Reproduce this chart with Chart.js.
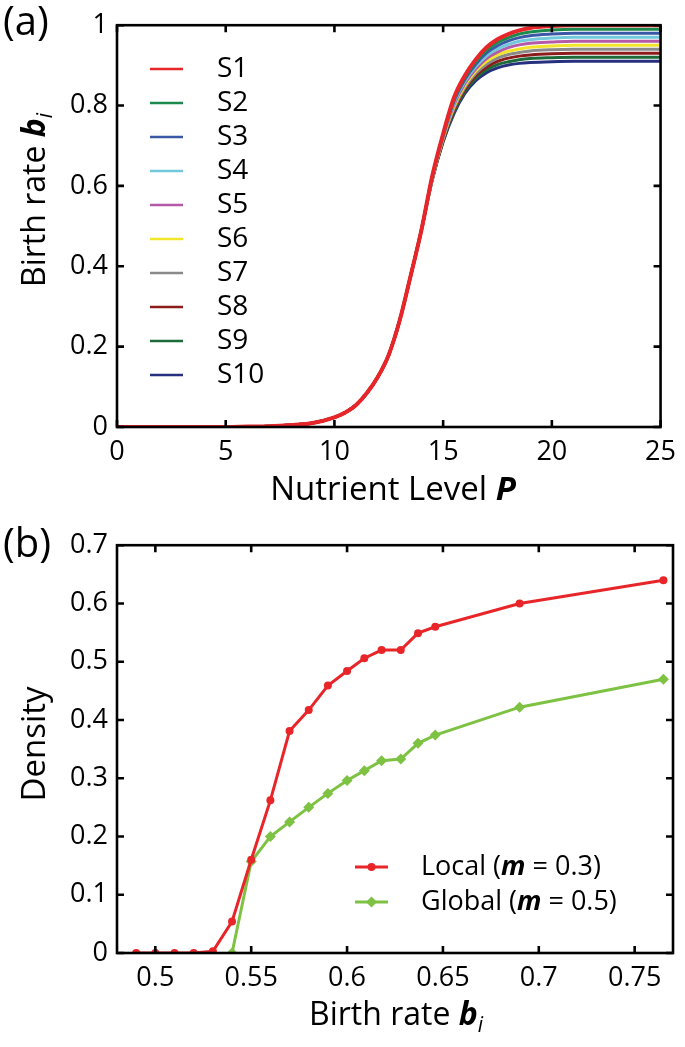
<!DOCTYPE html>
<html>
<head>
<meta charset="utf-8">
<script src="https://cdn.jsdelivr.net/npm/chart.js@4.4.1/dist/chart.umd.min.js"></script>
<style>
  html, body { margin: 0; padding: 0; background: #fff; }
  canvas { display: block; }
</style>
</head>
<body>
<canvas id="chartA" width="685" height="520"></canvas>
<canvas id="chartB" width="685" height="527"></canvas>
<script>
// ---- panel (a): birth rate vs nutrient level ----
const nutrientLow = [0, 1, 2, 3, 4, 5, 6, 7, 8, 9, 10, 10.5, 11, 11.5, 12, 12.5, 13, 13.5, 14];
const nutrientHigh = [14.5, 15, 15.5, 16, 16.5, 17, 17.5, 18, 18.5, 19, 20, 21, 22, 23, 24, 25];
// all species share the rising part of the curve
const riseShared = [0, 0, 0, 0, 0, 0, 0.001, 0.002, 0.005, 0.01, 0.024, 0.036, 0.055, 0.085, 0.125, 0.18, 0.265, 0.375, 0.49];
const s1Top = [0.625, 0.73, 0.82, 0.875, 0.915, 0.945, 0.965, 0.978, 0.987, 0.993, 0.998, 1, 1, 1, 1, 1];
const s2Top = [0.624, 0.728, 0.816, 0.870, 0.909, 0.938, 0.957, 0.969, 0.978, 0.983, 0.988, 0.99, 0.99, 0.99, 0.99, 0.99];
const s3Top = [0.623, 0.726, 0.811, 0.865, 0.903, 0.931, 0.949, 0.961, 0.969, 0.974, 0.978, 0.98, 0.98, 0.98, 0.98, 0.98];
const s4Top = [0.622, 0.723, 0.807, 0.860, 0.897, 0.924, 0.941, 0.952, 0.960, 0.964, 0.968, 0.97, 0.97, 0.97, 0.97, 0.97];
const s5Top = [0.621, 0.721, 0.802, 0.855, 0.891, 0.917, 0.933, 0.944, 0.951, 0.955, 0.958, 0.96, 0.96, 0.96, 0.96, 0.96];
const s6Top = [0.619, 0.719, 0.798, 0.850, 0.886, 0.910, 0.926, 0.935, 0.941, 0.945, 0.948, 0.95, 0.95, 0.95, 0.95, 0.95];
const s7Top = [0.618, 0.717, 0.793, 0.845, 0.880, 0.903, 0.918, 0.927, 0.932, 0.936, 0.939, 0.94, 0.94, 0.94, 0.94, 0.94];
const s8Top = [0.617, 0.714, 0.789, 0.840, 0.874, 0.896, 0.910, 0.918, 0.923, 0.926, 0.929, 0.93, 0.93, 0.93, 0.93, 0.93];
const s9Top = [0.616, 0.712, 0.784, 0.835, 0.868, 0.889, 0.902, 0.909, 0.914, 0.917, 0.919, 0.92, 0.92, 0.92, 0.92, 0.92];
const s10Top = [0.615, 0.71, 0.78, 0.83, 0.862, 0.882, 0.894, 0.901, 0.905, 0.907, 0.909, 0.91, 0.91, 0.91, 0.91, 0.91];
const speciesNames = ["S1", "S2", "S3", "S4", "S5", "S6", "S7", "S8", "S9", "S10"];
const speciesTops = [s1Top, s2Top, s3Top, s4Top, s5Top, s6Top, s7Top, s8Top, s9Top, s10Top];
const speciesColors = ["#e8262a", "#1b8a4c", "#3b58a6", "#72c9dc", "#b45aa8", "#f1e62a", "#8a8a8a", "#8c1c1c", "#1d6b3a", "#26307e"];
const nutrientTicks = [0, 5, 10, 15, 20, 25];

// ---- panel (b): density vs birth rate ----
const localRate = [0.49, 0.50, 0.51, 0.52, 0.53, 0.54, 0.55, 0.56, 0.57, 0.58, 0.59, 0.60, 0.609, 0.618, 0.628, 0.637, 0.646, 0.69, 0.765];
const localDensity = [0, 0, 0, 0, 0.003, 0.054, 0.16, 0.262, 0.381, 0.417, 0.459, 0.484, 0.506, 0.52, 0.52, 0.549, 0.56, 0.6, 0.64];
const globalRate = [0.54, 0.55, 0.56, 0.57, 0.58, 0.59, 0.60, 0.609, 0.618, 0.628, 0.637, 0.646, 0.69, 0.765];
const globalDensity = [0, 0.157, 0.2, 0.225, 0.25, 0.274, 0.296, 0.313, 0.33, 0.333, 0.36, 0.374, 0.422, 0.47];
const rateTicks = [0.5, 0.55, 0.6, 0.65, 0.7, 0.75];

const FONT = "'Open Sans', 'DejaVu Sans', sans-serif";
const RED = "#e8262a";
const GREEN = "#7dc242";

function font(size, style) {
    return (style ? style + " " : "") + size + "px " + FONT;
}

// draw text made of pieces with different fonts
function drawRich(ctx, pieces, x, y, opts) {
    opts = opts || {};
    ctx.save();
    ctx.translate(x, y);
    if (opts.rotate) ctx.rotate(opts.rotate);
    ctx.textBaseline = "middle";
    ctx.textAlign = "left";
    ctx.fillStyle = "#000";
    let total = 0;
    pieces.forEach((p) => {
        ctx.font = p.font;
        p.w = ctx.measureText(p.text).width;
        total += p.w;
    });
    let cx = opts.align === "left" ? 0 : -total / 2;
    pieces.forEach((p) => {
        ctx.font = p.font;
        ctx.fillText(p.text, cx, p.dy || 0);
        cx += p.w;
    });
    ctx.restore();
}

// box frame, inward ticks, titles and legend
function framePlugin(extra) {
    return {
        id: "frame",
        afterDraw(chart) {
            const ctx = chart.ctx;
            const a = chart.chartArea;
            const xs = chart.scales.x, ys = chart.scales.y;
            ctx.save();
            ctx.strokeStyle = "#000";
            ctx.lineWidth = 2.6;
            ctx.strokeRect(a.left, a.top, a.right - a.left, a.bottom - a.top);
            ctx.beginPath();
            xs.ticks.forEach((t) => {
                const px = xs.getPixelForValue(t.value);
                ctx.moveTo(px, a.bottom); ctx.lineTo(px, a.bottom - 7);
                ctx.moveTo(px, a.top); ctx.lineTo(px, a.top + 7);
            });
            ys.ticks.forEach((t) => {
                const py = ys.getPixelForValue(t.value);
                ctx.moveTo(a.left, py); ctx.lineTo(a.left + 7, py);
                ctx.moveTo(a.right, py); ctx.lineTo(a.right - 7, py);
            });
            ctx.stroke();
            ctx.restore();
            extra(ctx, chart);
        },
    };
}

function axisOpts(min, max) {
    return {
        type: "linear",
        min: min,
        max: max,
        grid: { display: false, drawTicks: false },
        border: { display: false },
        ticks: { color: "#000", font: { family: FONT, size: 27 }, padding: 9 },
    };
}

// ---------- chart (a) ----------
const datasetsA = speciesNames.map((name, i) => {
    const ys = riseShared.concat(speciesTops[i]);
    const xs = nutrientLow.concat(nutrientHigh);
    return {
        label: name,
        data: xs.map((x, k) => ({ x: x, y: ys[k] })),
        borderColor: speciesColors[i],
        borderWidth: i === 0 ? 4 : 3,
        pointRadius: 0,
        cubicInterpolationMode: "monotone",
        fill: false,
    };
});

const xA = axisOpts(0, 25);
xA.afterBuildTicks = (s) => { s.ticks = nutrientTicks.map((v) => ({ value: v })); };
xA.afterFit = (s) => { s.height = 93; };
const yA = axisOpts(0, 1);
yA.ticks.stepSize = 0.2;
yA.ticks.callback = (v) => String(Number(v.toFixed(2)));
yA.afterFit = (s) => { s.width = 117; };

new Chart(document.getElementById("chartA"), {
    type: "line",
    data: { datasets: datasetsA },
    options: {
        responsive: false,
        animation: false,
        devicePixelRatio: 1,
        layout: { padding: { top: 20, right: 12, left: 0, bottom: 0 } },
        plugins: { legend: { display: false }, tooltip: { enabled: false } },
        scales: { x: xA, y: yA },
    },
    plugins: [framePlugin((ctx, chart) => {
        drawRich(ctx, [{ text: "(a)", font: font(40) }], 3, 24, { align: "left" });
        drawRich(ctx, [
            { text: "Nutrient Level ", font: font(33) },
            { text: "P", font: font(33, "italic bold") },
        ], 393, 491);
        drawRich(ctx, [
            { text: "Birth rate ", font: font(32) },
            { text: "b", font: font(32, "italic bold") },
            { text: "i", font: font(21, "italic"), dy: 10 },
        ], 36, 200, { rotate: -Math.PI / 2 });
        // legend
        speciesNames.forEach((name, i) => {
            const y = 69 + i * 34;
            ctx.save();
            ctx.strokeStyle = speciesColors[i];
            ctx.lineWidth = 2.6;
            ctx.beginPath();
            ctx.moveTo(150, y); ctx.lineTo(183, y);
            ctx.stroke();
            ctx.restore();
            drawRich(ctx, [{ text: name, font: font(28) }], 217, y, { align: "left" });
        });
    })],
});

// ---------- chart (b) ----------
const xB = axisOpts(0.48, 0.77);
xB.afterBuildTicks = (s) => { s.ticks = rateTicks.map((v) => ({ value: v })); };
xB.ticks.callback = (v) => String(Number(v.toFixed(2)));
xB.afterFit = (s) => { s.height = 94; };
const yB = axisOpts(0, 0.7);
yB.ticks.stepSize = 0.1;
yB.ticks.callback = (v) => String(Number(v.toFixed(2)));
yB.afterFit = (s) => { s.width = 117; };

new Chart(document.getElementById("chartB"), {
    type: "line",
    data: {
        datasets: [
            {
                label: "Local",
                data: localRate.map((x, k) => ({ x: x, y: localDensity[k] })),
                borderColor: RED,
                backgroundColor: RED,
                borderWidth: 3,
                pointStyle: "circle",
                pointRadius: 4,
                pointBorderWidth: 0,
                tension: 0,
            },
            {
                label: "Global",
                data: globalRate.map((x, k) => ({ x: x, y: globalDensity[k] })),
                borderColor: GREEN,
                backgroundColor: GREEN,
                borderWidth: 3,
                pointStyle: "rectRot",
                pointRadius: 5.5,
                pointBorderWidth: 0,
                tension: 0,
            },
        ],
    },
    options: {
        responsive: false,
        animation: false,
        devicePixelRatio: 1,
        layout: { padding: { top: 15, right: 12, left: 0, bottom: 0 } },
        plugins: { legend: { display: false }, tooltip: { enabled: false } },
        scales: { x: xB, y: yB },
    },
    plugins: [framePlugin((ctx, chart) => {
        drawRich(ctx, [{ text: "(b)", font: font(40) }], 3, 26, { align: "left" });
        drawRich(ctx, [
            { text: "Birth rate ", font: font(32) },
            { text: "b", font: font(32, "italic bold") },
            { text: "i", font: font(21, "italic"), dy: 10 },
        ], 396, 496);
        drawRich(ctx, [{ text: "Density", font: font(33) }], 36, 224, { rotate: -Math.PI / 2 });
        // legend
        const rows = [
            { color: RED, marker: "circle", y: 347, txt: ["Local (", "m", " = 0.3)"] },
            { color: GREEN, marker: "diamond", y: 382, txt: ["Global (", "m", " = 0.5)"] },
        ];
        rows.forEach((r) => {
            ctx.save();
            ctx.strokeStyle = r.color;
            ctx.fillStyle = r.color;
            ctx.lineWidth = 3;
            ctx.beginPath();
            ctx.moveTo(355, r.y); ctx.lineTo(388, r.y);
            ctx.stroke();
            ctx.beginPath();
            if (r.marker === "circle") {
                ctx.arc(371.5, r.y, 4, 0, Math.PI * 2);
            } else {
                ctx.moveTo(371.5, r.y - 5.5); ctx.lineTo(377, r.y);
                ctx.lineTo(371.5, r.y + 5.5); ctx.lineTo(366, r.y);
                ctx.closePath();
            }
            ctx.fill();
            ctx.restore();
            drawRich(ctx, [
                { text: r.txt[0], font: font(27) },
                { text: r.txt[1], font: font(27, "italic bold") },
                { text: r.txt[2], font: font(27) },
            ], 421, r.y, { align: "left" });
        });
    })],
});
</script>
</body>
</html>
